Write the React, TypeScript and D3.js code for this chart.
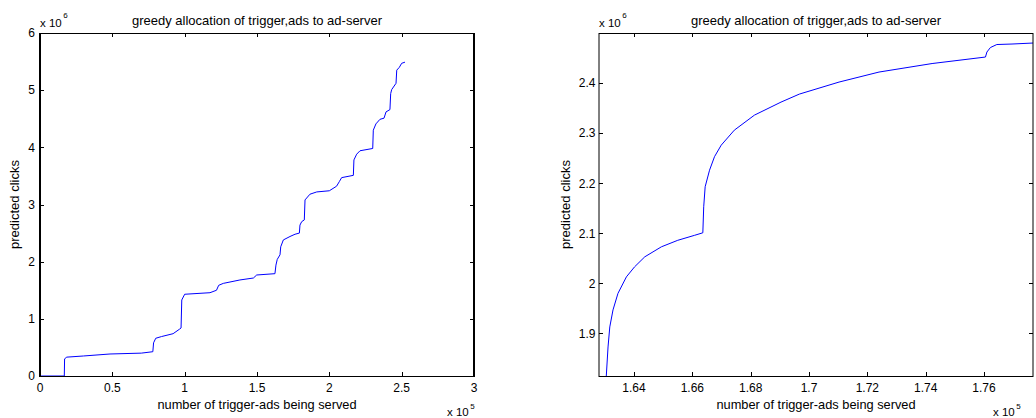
import React, { useEffect, useRef } from "react";
import * as d3 from "d3";

const W = 1036;
const H = 418;
const FONT = "'Liberation Sans', Arial, Helvetica, sans-serif";

const title = "greedy allocation of trigger,ads to ad-server";
const xLabel = "number of trigger-ads being served";
const yLabel = "predicted clicks";

// left panel: x in units of 1e5, y in units of 1e6
const leftX = [
  0, 0.168, 0.17, 0.185, 0.3, 0.484, 0.7, 0.78, 0.785, 0.8, 0.84, 0.92, 0.965,
  0.975, 0.98, 1.0, 1.175, 1.22, 1.235, 1.267, 1.382, 1.475, 1.498, 1.624,
  1.631, 1.64, 1.659, 1.664, 1.682, 1.728, 1.763, 1.793, 1.797, 1.809, 1.827,
  1.832, 1.866, 1.913, 2.0, 2.05, 2.069, 2.085, 2.166, 2.17, 2.189, 2.212, 2.3,
  2.304, 2.322, 2.35, 2.378, 2.392, 2.419, 2.424, 2.431, 2.461, 2.466, 2.484,
  2.5, 2.523,
];
const leftY = [
  0, 0, 0.3, 0.33, 0.35, 0.385, 0.4, 0.425, 0.58, 0.66, 0.69, 0.74, 0.82, 0.84,
  1.33, 1.43, 1.457, 1.5, 1.586, 1.62, 1.68, 1.714, 1.767, 1.79, 1.94, 2.04,
  2.12, 2.26, 2.38, 2.44, 2.48, 2.5, 2.64, 2.7, 2.73, 3.08, 3.18, 3.22, 3.24,
  3.32, 3.4, 3.47, 3.51, 3.78, 3.88, 3.94, 3.98, 4.3, 4.41, 4.49, 4.51, 4.62,
  4.66, 4.94, 5.01, 5.12, 5.35, 5.4, 5.47, 5.49,
];
const leftXTicks = [0, 0.5, 1, 1.5, 2, 2.5, 3];
const leftXTickLabels = ["0", "0.5", "1", "1.5", "2", "2.5", "3"];
const leftYTicks = [0, 1, 2, 3, 4, 5, 6];
const leftYTickLabels = ["0", "1", "2", "3", "4", "5", "6"];

// right panel: zoom on the middle of the same curve
const rightX = [
  1.6305, 1.6311, 1.6317, 1.6328, 1.6345, 1.6374, 1.6402, 1.6437, 1.6494,
  1.655, 1.6608, 1.6636, 1.6639, 1.6644, 1.6659, 1.6676, 1.6699, 1.6744,
  1.6813, 1.6904, 1.6967, 1.7103, 1.724, 1.7422, 1.7605, 1.761, 1.7622, 1.7644,
  1.7696, 1.777,
];
const rightY = [
  1.815, 1.873, 1.913, 1.947, 1.98, 2.013, 2.033, 2.053, 2.073, 2.086, 2.096,
  2.101, 2.153, 2.193, 2.226, 2.253, 2.276, 2.306, 2.336, 2.362, 2.378, 2.402,
  2.422, 2.439, 2.452, 2.462, 2.471, 2.477, 2.478, 2.48,
];
const rightXTicks = [1.64, 1.66, 1.68, 1.7, 1.72, 1.74, 1.76];
const rightXTickLabels = ["1.64", "1.66", "1.68", "1.7", "1.72", "1.74", "1.76"];
const rightYTicks = [1.9, 2.0, 2.1, 2.2, 2.3, 2.4];
const rightYTickLabels = ["1.9", "2", "2.1", "2.2", "2.3", "2.4"];

const panels = [
  {
    id: "l",
    xs: leftX,
    ys: leftY,
    xDomain: [0, 3],
    yDomain: [0, 6],
    xTicks: leftXTicks,
    xTickLabels: leftXTickLabels,
    yTicks: leftYTicks,
    yTickLabels: leftYTickLabels,
    left: 40,
    right: 474,
    sideWidth: 2,
    yTickGap: 5,
    yLabelX: 19,
    xExpX: 447,
  },
  {
    id: "r",
    xs: rightX,
    ys: rightY,
    xDomain: [1.628, 1.7768],
    yDomain: [1.815, 2.5],
    xTicks: rightXTicks,
    xTickLabels: rightXTickLabels,
    yTicks: rightYTicks,
    yTickLabels: rightYTickLabels,
    left: 599,
    right: 1033,
    sideWidth: 1,
    yTickGap: 3.5,
    yLabelX: 570,
    xExpX: 993,
  },
];

const top = 33;
const bottom = 376;
const tickLen = 4;

const App = () => {
  const ref = useRef<SVGSVGElement>(null);

  useEffect(() => {
    document.body.style.margin = "0";
    const svg = d3.select(ref.current);
    svg.selectAll("*").remove();

    panels.forEach((p) => {
      const x = d3.scaleLinear().domain(p.xDomain).range([p.left, p.right]);
      const y = d3.scaleLinear().domain(p.yDomain).range([bottom, top]);
      const g = svg.append("g");

      g.append("clipPath")
        .attr("id", `clip-${p.id}`)
        .append("rect")
        .attr("x", p.left)
        .attr("y", top)
        .attr("width", p.right - p.left)
        .attr("height", bottom - top);

      // curve
      const pts = p.xs.map((v, i) => [v, p.ys[i]]);
      g.append("path")
        .datum(pts)
        .attr("clip-path", `url(#clip-${p.id})`)
        .attr("fill", "none")
        .attr("stroke", "#0000ff")
        .attr("stroke-width", 1)
        .attr(
          "d",
          d3
            .line()
            .x((d) => x(d[0]))
            .y((d) => y(d[1]))
        );

      // box
      g.append("line")
        .attr("x1", p.left).attr("x2", p.right)
        .attr("y1", top + 0.5).attr("y2", top + 0.5)
        .attr("stroke", "#000");
      g.append("line")
        .attr("x1", p.left).attr("x2", p.right)
        .attr("y1", bottom + 0.5).attr("y2", bottom + 0.5)
        .attr("stroke", "#000");
      [p.left, p.right].forEach((xx) => {
        g.append("line")
          .attr("x1", xx).attr("x2", xx)
          .attr("y1", top).attr("y2", bottom + 1)
          .attr("stroke", "#000")
          .attr("stroke-width", p.sideWidth);
      });

      // x ticks (inward, top and bottom)
      p.xTicks.forEach((t, i) => {
        const xx = Math.round(x(t)) + 0.5;
        g.append("line")
          .attr("x1", xx).attr("x2", xx)
          .attr("y1", bottom).attr("y2", bottom - tickLen)
          .attr("stroke", "#000");
        g.append("line")
          .attr("x1", xx).attr("x2", xx)
          .attr("y1", top).attr("y2", top + tickLen)
          .attr("stroke", "#000");
        g.append("text")
          .attr("x", x(t))
          .attr("y", 391.5)
          .attr("text-anchor", "middle")
          .attr("font-family", FONT)
          .attr("font-size", 12)
          .attr("fill", "#000")
          .text(p.xTickLabels[i]);
      });

      // y ticks (inward, left and right)
      p.yTicks.forEach((t, i) => {
        const yy = Math.round(y(t)) + 0.5;
        g.append("line")
          .attr("x1", p.left).attr("x2", p.left + tickLen)
          .attr("y1", yy).attr("y2", yy)
          .attr("stroke", "#000");
        g.append("line")
          .attr("x1", p.right).attr("x2", p.right - tickLen)
          .attr("y1", yy).attr("y2", yy)
          .attr("stroke", "#000");
        g.append("text")
          .attr("x", p.left - p.yTickGap)
          .attr("y", y(t))
          .attr("dy", "0.36em")
          .attr("text-anchor", "end")
          .attr("font-family", FONT)
          .attr("font-size", 12)
          .attr("fill", "#000")
          .text(p.yTickLabels[i]);
      });

      // title
      g.append("text")
        .attr("x", (p.left + p.right) / 2)
        .attr("y", 25)
        .attr("text-anchor", "middle")
        .attr("font-family", FONT)
        .attr("font-size", 13)
        .attr("fill", "#000")
        .text(title);

      // axis labels
      g.append("text")
        .attr("x", (p.left + p.right) / 2)
        .attr("y", 409)
        .attr("text-anchor", "middle")
        .attr("font-family", FONT)
        .attr("font-size", 12.8)
        .attr("fill", "#000")
        .text(xLabel);

      g.append("text")
        .attr("transform", `translate(${p.yLabelX},${(top + bottom) / 2}) rotate(-90)`)
        .attr("text-anchor", "middle")
        .attr("font-family", FONT)
        .attr("font-size", 13)
        .attr("fill", "#000")
        .text(yLabel);

      // exponent labels
      const ey = g.append("text")
        .attr("x", p.left)
        .attr("y", 27)
        .attr("font-family", FONT)
        .attr("font-size", 11.5)
        .attr("fill", "#000");
      ey.append("tspan").text("x 10");
      ey.append("tspan").attr("dx", 1.5).attr("dy", -9).attr("font-size", 8).text("6");

      const ex = g.append("text")
        .attr("x", p.xExpX)
        .attr("y", 416)
        .attr("font-family", FONT)
        .attr("font-size", 11.5)
        .attr("fill", "#000");
      ex.append("tspan").text("x 10");
      ex.append("tspan").attr("dx", 1.5).attr("dy", -7).attr("font-size", 8).text("5");
    });
  }, []);

  return (
    <svg
      ref={ref}
      width={W}
      height={H}
      style={{ display: "block", background: "#fff" }}
    />
  );
};

export default App;
